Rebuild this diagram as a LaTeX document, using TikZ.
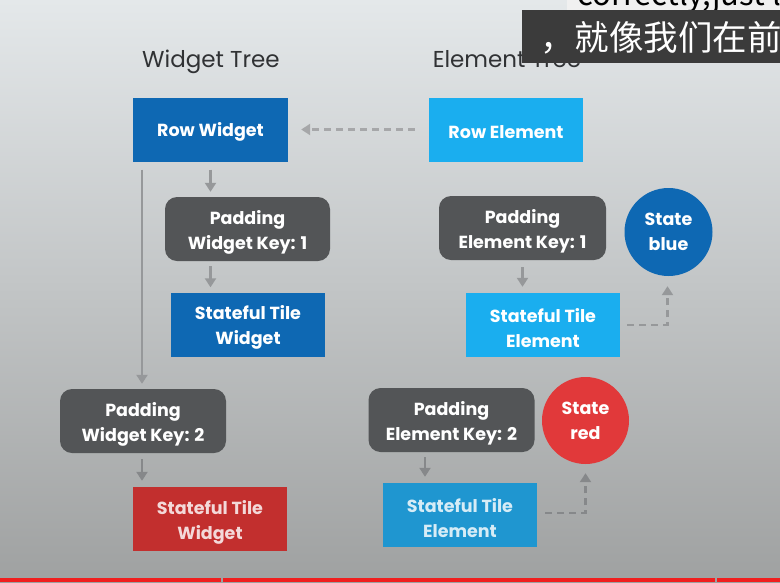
\documentclass[tikz,border=0pt]{standalone}
\usepackage{fontspec}
\newfontfamily\boxfont{Poppins}
\newfontfamily\cjk{Noto Sans CJK SC}
\usetikzlibrary{arrows.meta}
\newcommand\liftline{\rule{0pt}{20.5pt}}
\definecolor{bgtop}{HTML}{E4E8EA}
\definecolor{bgmid}{HTML}{D3D7D8}
\definecolor{bgbot}{HTML}{9FA1A1}
\definecolor{rowblue}{HTML}{0E68B3}
\definecolor{ltblue}{HTML}{1AAEEF}
\definecolor{midblue}{HTML}{1F96D0}
\definecolor{padgray}{HTML}{535557}
\definecolor{redw}{HTML}{C22F2E}
\definecolor{redc}{HTML}{E1393A}
\definecolor{arrgray}{HTML}{96989A}
\definecolor{arrdark}{HTML}{86888A}
\definecolor{subdark}{HTML}{3B3B3B}
\definecolor{sublight}{HTML}{F0F0F0}
\definecolor{redbar}{HTML}{F01E1E}
\definecolor{titlegray}{HTML}{303234}
\tikzset{
  box/.style={rectangle, minimum width=154pt, minimum height=64pt, inner sep=0pt,
    text=white, font=\boxfont\bfseries\fontsize{17.5}{25}\selectfont, align=center},
  oneline/.style={execute at begin node={\rule{0pt}{18.5pt}}},
  padbox/.style={box, fill=padgray, rounded corners=12pt, minimum width=166pt},
  circ/.style={circle, minimum size=88pt, inner sep=0pt, text=white,
    font=\boxfont\bfseries\fontsize{17.5}{25}\selectfont, align=center},
  arr/.style={draw=arrgray, line width=2.5pt, -{Triangle[length=9pt,width=11pt]}},
  darr/.style={arr, line width=2.8pt, dash pattern=on 7pt off 5pt},
  title/.style={font=\boxfont\fontsize{23}{28}\selectfont, text=titlegray, inner sep=0pt, anchor=base},
}
\begin{document}
\begin{tikzpicture}[x=1pt,y=-1pt]
\clip (0,0) rectangle (780,582);
% background
\shade[top color=bgtop, middle color=bgmid, bottom color=bgbot] (0,0) rectangle (780,582);
% bottom red bar
\fill[redbar] (0,578) rectangle (221,582);
\fill[redbar] (223,578) rectangle (715,582);
\fill[redbar] (717,578) rectangle (780,582);

% titles
\node[title] (tW) at (211,67) {Widget Tree};
\node[title] (tE) at (507,67) {Element Tree};

% widget tree
\node[box, oneline, fill=rowblue, minimum width=155pt] (rowW) at (210.5,129.5) {Row Widget};
\node[padbox, minimum width=165pt] (padW1) at (247.5,229) {\liftline Padding\\Widget Key: 1};
\node[box, fill=rowblue] (stW1) at (248,324.5) {\liftline Stateful Tile\\Widget};
\node[padbox] (padW2) at (143,421) {\liftline Padding\\Widget Key: 2};
\node[box, fill=redw, text opacity=0.82] (stW2) at (210,519) {\liftline Stateful Tile\\Widget};

% element tree
\node[box, oneline, fill=ltblue] (rowE) at (506,129.5) {Row Element};
\node[padbox, minimum width=167pt] (padE1) at (522.5,228) {\liftline Padding\\Element Key: 1};
\node[circ, fill=rowblue] (stBlue) at (668.5,232) {State\\blue};
\node[box, fill=ltblue] (stE1) at (543,325) {\liftline Stateful Tile\\Element};
\node[padbox] (padE2) at (451.5,420) {\liftline Padding\\Element Key: 2};
\node[circ, fill=redc, minimum size=87pt] (stRed) at (585.5,420.5) {State\\red};
\node[box, fill=midblue, text opacity=0.82] (stE2) at (460,515) {\liftline Stateful Tile\\Element};

% connectors
\draw[darr, draw=arrgray!85!white, shorten <=14pt, shorten >=13pt] (rowE.west) -- (rowW.east);
\draw[arr, shorten <=8pt, shorten >=5pt] (rowW.south) -- (rowW.south |- padW1.north);
\draw[arr, shorten <=5pt, shorten >=5pt] (rowW.south |- padW1.south) -- (rowW.south |- stW1.north);
\draw[arr, shorten <=8pt, shorten >=5pt] ([xshift=-1pt]padW2.north |- rowW.south) -- ([xshift=-1pt]padW2.north);
\draw[arr, draw=arrdark, shorten <=6pt, shorten >=6pt] ([xshift=-1pt]padW2.south) -- ([xshift=-1pt]padW2.south |- stW2.north);
\draw[arr, shorten <=7pt, shorten >=6pt] (padE1.south) -- (padE1.south |- stE1.north);
\draw[darr, shorten <=7pt, shorten >=10pt] (stE1.east) -| ([xshift=-1pt]stBlue.south);
\draw[arr, draw=arrdark, shorten <=5pt, shorten >=6pt] ([xshift=-26.5pt]padE2.south) -- ([xshift=-26.5pt]padE2.south |- stE2.north);
\draw[darr, draw=arrdark, shorten <=8pt, shorten >=9pt] ([yshift=2pt]stE2.east) -| (stRed.south);

% subtitle overlay
\fill[sublight] (567,0) rectangle (780,10);
\begin{scope}
\clip (567,0) rectangle (780,10);
\node[anchor=base west, inner sep=0pt, font=\cjk\fontsize{31}{36}\selectfont, text=black] (subEn) at (577,5) {correctly,just like};
\end{scope}
\fill[subdark] (522,10) rectangle (780,63);
\node[anchor=base west, inner sep=0pt, font=\cjk\fontsize{34.5}{38}\selectfont, text=white] (subZh) at (540,50) {，就像我们在前};
\end{tikzpicture}
\end{document}
